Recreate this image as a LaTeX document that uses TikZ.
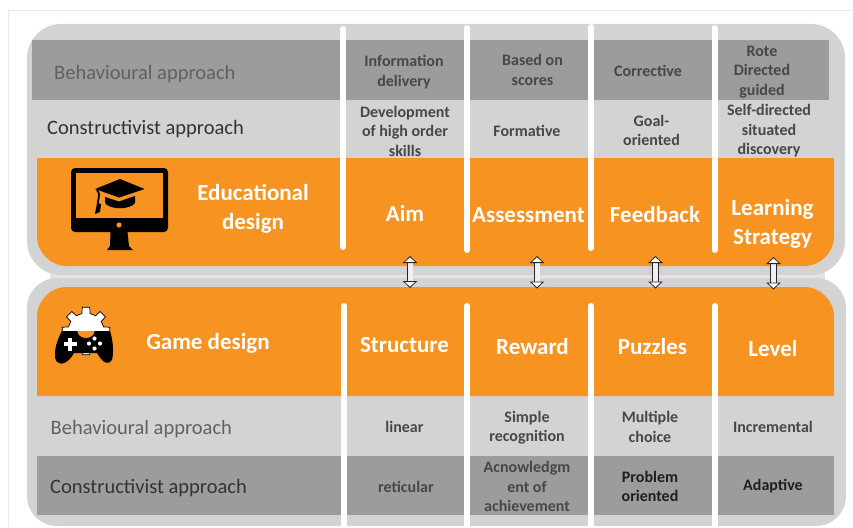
\documentclass[tikz,border=0pt]{standalone}
\usepackage{fontspec}
\setmainfont{Carlito}
\usetikzlibrary{arrows.meta}
\definecolor{orangeband}{HTML}{F79321}
\definecolor{panelgrey}{HTML}{D3D3D3}
\definecolor{darkband}{HTML}{9C9C9C}
\definecolor{gapgrey}{HTML}{E4E4E4}
\definecolor{framegrey}{HTML}{E8E8E8}
\tikzset{
  x=1pt,y=-1pt,
  sep/.style={white,line width=6pt,line cap=round},
  small/.style={align=center,inner sep=0pt,text=black!72,font=\fontsize{16}{19.5}\selectfont\bfseries},
  strong/.style={small,text=black!88},
  big/.style={align=center,inner sep=0pt,text=white,font=\fontsize{23}{28.5}\selectfont\bfseries},
  approach/.style={anchor=west,inner sep=0pt,font=\fontsize{20.5}{22}\selectfont},
  link/.style={draw=black!85,double=black!6,double distance=5pt,line width=.8pt,
    {Triangle[width=14.5pt,length=7pt,fill=white]}-{Triangle[width=14.5pt,length=7pt,fill=white]}},
}
\begin{document}
\begin{tikzpicture}
\useasboundingbox (0,0) rectangle (853,527);
\fill[white] (0,0) rectangle (853,527);
\draw[framegrey,line width=1pt] (853,10.5) -- (8.5,10.5) -- (8.5,527);
% panels
\fill[gapgrey] (50,272) rectangle (825,281);
\fill[panelgrey] (27,24) [rounded corners=34pt] -- (845,24) -- (845,275) -- (27,275) -- cycle;
\fill[panelgrey] (27,278) [rounded corners=30pt] -- (846,278) -- (846,526) -- (27,526) -- cycle;
% upper bands
\fill[darkband] (32,40) rectangle (829,100);
\fill[orangeband] (37,158) -- (834,158) [rounded corners=30pt] -- (834,266) -- (37,266) [sharp corners] -- cycle;
% lower bands
\fill[orangeband] (37,396) -- (834,396) [rounded corners=30pt] -- (834,287) -- (37,287) [sharp corners] -- cycle;
\fill[darkband] (37,456) rectangle (834,515);
% separators
\draw[sep] (343,29) -- (343,247);
\draw[sep] (467,28) -- (467,250);
\draw[sep] (591,27) -- (591,248);
\draw[sep] (714.5,28) -- (714.5,250);
\draw[sep] (344,306) -- (344,527);
\draw[sep] (467,306) -- (467,527);
\draw[sep] (591,306) -- (591,527);
\draw[sep] (715,306) -- (715,527);
% monitor icon
\fill[black,rounded corners=4pt] (71,168) rectangle (168,232);
\fill[orangeband] (76,173) rectangle (163,218);
\fill[orangeband] (119,225) circle (2.6);
\fill[black] (110.5,232) -- (127.5,232) -- (129,246) -- (133,250) -- (107,250) -- (110,246) -- cycle;
\fill[black] (95,189) -- (120,179) -- (144.5,189) -- (119,197.5) -- cycle;
\fill[black] (105,197) -- (119,201.5) -- (135,196) -- (135,203) .. controls (130,210) and (110,210) .. (105,203) -- cycle;
\draw[black,line width=1.8pt] (97,190) .. controls (102,196) and (96,200) .. (98.5,206);
\fill[black] (97,203) -- (101,204) -- (100,212) -- (95,214) -- cycle;
% gamepad icon
\begin{scope}[shift={(86,331)}]
\fill[white,draw=black,line width=.7pt] (-15:18)
  \foreach \a in {0,45,...,315} {
    -- (\a-13:18) -- (\a-9:24) -- (\a+9:24) -- (\a+13:18)
  } -- cycle;
\end{scope}
\fill[black] (62,331) -- (110,331)
  .. controls (113,340) and (114,352) .. (112,360)
  .. controls (109,365) and (103,364) .. (97,353)
  -- (74,353)
  .. controls (68,364) and (60,366) .. (56,361)
  .. controls (53,352) and (57,340) .. (62,331) -- cycle;
\fill[black] (74,331) arc[start angle=180,end angle=0,x radius=12,y radius=10] -- cycle;
\fill[orangeband] (77.5,331) arc[start angle=180,end angle=0,x radius=8.5,y radius=7] -- cycle;
\fill[white] (68,337.5) rectangle (72,350.5);
\fill[white] (63.5,342) rectangle (76.5,346);
\foreach \dx/\dy in {0/-5,0/5,-5.5/0,5.5/0} \fill[white] (94.5+\dx,343.5+\dy) circle (2.1);
% connectors
\coordinate (a1t) at (410,256); \coordinate (a1b) at (410,288);
\coordinate (a2t) at (537,256); \coordinate (a2b) at (537,288.5);
\coordinate (a3t) at (655.5,256); \coordinate (a3b) at (655.5,288.5);
\coordinate (a4t) at (773.5,257); \coordinate (a4b) at (773.5,289.5);
\draw[link] (a1t) -- (a1b);
\draw[link] (a2t) -- (a2b);
\draw[link] (a3t) -- (a3b);
\draw[link] (a4t) -- (a4b);
% upper texts
\node[approach,text=black!62] (ub) at (54,74.5) {Behavioural approach};
\node[approach,text=black!80] (uc) at (47,129) {Constructivist approach};
\node[big] (edu) at (253,209) {Educational\\design};
\node[big] (aim) at (405,213.5) {Aim};
\node[big] (ass) at (528.5,215) {Assessment};
\node[big] (fee) at (655,214.5) {Feedback};
\node[big] (lea) at (772.5,224) {Learning\\Strategy};
\node[small] (t1) at (404,72) {Information\\delivery};
\node[small] (t2) at (532.5,70) {Based on\\scores};
\node[small] (t3) at (648,70.5) {Corrective};
\node[small] (t4) at (762,72) {Rote\\Directed\\guided};
\node[small] (c1) at (405,131) {Development\\of high order\\skills};
\node[small] (c2) at (527,130.5) {Formative};
\node[small] (c3) at (651.5,130.5) {Goal-\\oriented};
\node[small] (c4) at (769,131) {Self-directed\\situated\\discovery};
% lower texts
\node[big] (gam) at (208,343) {Game design};
\node[big] (str) at (404.5,345) {Structure};
\node[big] (rew) at (532.5,346.5) {Reward};
\node[big] (puz) at (652.5,346.5) {Puzzles};
\node[big] (lev) at (773,348.5) {Level};
\node[approach,text=black!62] (lb) at (50.5,429) {Behavioural approach};
\node[approach,text=black!80] (lc) at (50,488.5) {Constructivist approach};
\node[small] (b1) at (404.5,426.5) {linear};
\node[small] (b2) at (527,427.5) {Simple\\recognition};
\node[small] (b3) at (650,427) {Multiple\\choice};
\node[small] (b4) at (773,426.5) {Incremental};
\node[small] (d1) at (406,486.5) {reticular};
\node[small] (d2) at (527,486.5) {Acnowledgm\\ent of\\achievement};
\node[strong] (d3) at (650,486.5) {Problem\\oriented};
\node[strong] (d4) at (773,486.5) {Adaptive};
\end{tikzpicture}
\end{document}
